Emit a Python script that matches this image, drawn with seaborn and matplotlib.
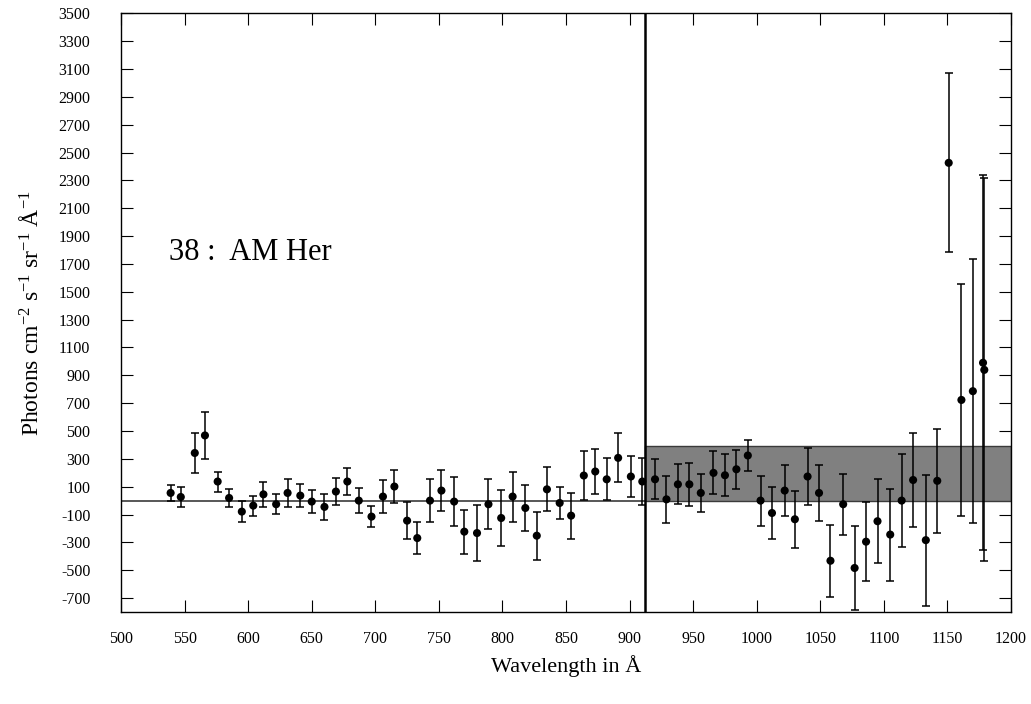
import matplotlib
matplotlib.use("Agg")
import matplotlib.pyplot as plt
import numpy as np
import pandas as pd
import seaborn as sns
from matplotlib.patches import Rectangle

# data
wavelength = [539, 547, 558, 566, 576, 585, 595, 604, 612, 622,
              631, 641, 650, 660, 669, 678, 687, 697, 706, 715,
              725, 733, 743, 752, 762, 770, 780, 789, 799, 808,
              818, 827, 835, 845, 854, 864, 873, 882, 891, 901,
              910, 920, 929, 938, 947, 956, 966, 975, 984, 993,
              1003, 1012, 1022, 1030, 1040, 1049, 1058, 1068, 1077, 1086,
              1095, 1105, 1114, 1123, 1133, 1142, 1151, 1161, 1170, 1178,
              1179]
flux = [55, 26, 342, 468, 137, 19, -79, -36, 45, -26,
        55, 36, -7, -45, 65, 137, 0, -115, 29, 101,
        -144, -269, 0, 72, -7, -223, -233, -26, -125, 29,
        -53, -252, 81, -17, -108, 180, 209, 153, 307, 173,
        137, 153, 9, 117, 117, 55, 199, 182, 225, 324,
        0, -89, 72, -134, 173, 55, -432, -26, -484, -295,
        -148, -244, 0, 148, -284, 142, 2426, 723, 786, 990,
        939]
err = [57, 74, 145, 170, 72, 67, 77, 71, 89, 70,
       101, 83, 85, 94, 98, 95, 90, 76, 117, 117,
       135, 117, 157, 145, 175, 157, 198, 180, 198, 180,
       162, 172, 158, 118, 166, 173, 162, 151, 175, 144,
       170, 144, 167, 144, 153, 134, 154, 152, 139, 112,
       180, 190, 183, 203, 206, 203, 260, 220, 305, 285,
       300, 330, 336, 336, 470, 372, 643, 830, 950, 1347,
       1375]

lyman_limit = 912
box_level = 395

df = pd.DataFrame({"Wavelength": wavelength, "Flux": flux, "Err": err})

sns.set_style("ticks")
plt.rcParams['font.family'] = ['Liberation Serif', 'DejaVu Serif']
plt.rcParams['mathtext.fontset'] = 'custom'
plt.rcParams['mathtext.rm'] = 'Liberation Serif'
plt.rcParams['mathtext.it'] = 'Liberation Serif:italic'
plt.rcParams['axes.unicode_minus'] = False
plt.rcParams['text.color'] = 'black'
plt.rcParams['axes.labelcolor'] = 'black'
plt.rcParams['xtick.color'] = 'black'
plt.rcParams['ytick.color'] = 'black'

fig = plt.figure(figsize=(10.31, 7.04), dpi=100)
ax = fig.add_axes([0.1174, 0.1307, 0.8632, 0.8504])

# shaded upper limit box and zero line
ax.add_patch(Rectangle((lyman_limit, 0), 1200 - lyman_limit, box_level,
                       facecolor='#808080', edgecolor='#3a3a3a', lw=1.0, zorder=1))
ax.plot([500, lyman_limit], [0, 0], color='#4a4a4a', lw=1.3, zorder=1)
ax.axvline(lyman_limit, color='black', lw=1.8, zorder=2)

ax.errorbar(df["Wavelength"], df["Flux"], yerr=df["Err"], fmt='none',
            ecolor='black', elinewidth=1.1, capsize=3, capthick=1.1, zorder=3)
sns.scatterplot(x=df["Wavelength"], y=df["Flux"], color='black', s=34,
                edgecolor='none', zorder=4, ax=ax)

ax.set_xlim(500, 1200)
ax.set_ylim(-800, 3500)
ax.set_xticks(np.arange(500, 1201, 50))
ax.set_yticks(np.arange(-700, 3501, 200))
ax.tick_params(axis='both', direction='in', length=8.5, width=0.8,
               top=True, right=True, labelsize=11.5)
ax.tick_params(axis='y', pad=22)
ax.tick_params(axis='x', pad=14)
for sp in ax.spines.values():
    sp.set_linewidth(1.0)
    sp.set_color('black')

ax.set_xlabel("Wavelength in Å", fontsize=16)
ax.set_ylabel(r"Photons cm$^{-2}$ s$^{-1}$ sr$^{-1}$ Å$^{-1}$", fontsize=17)
ax.xaxis.set_label_coords(0.5, -0.072)
ax.yaxis.set_label_coords(-0.088, 0.5)

ax.text(538, 1727, "38 :  AM Her", fontsize=22, va='baseline', ha='left')

plt.savefig('out.png', dpi=100)
